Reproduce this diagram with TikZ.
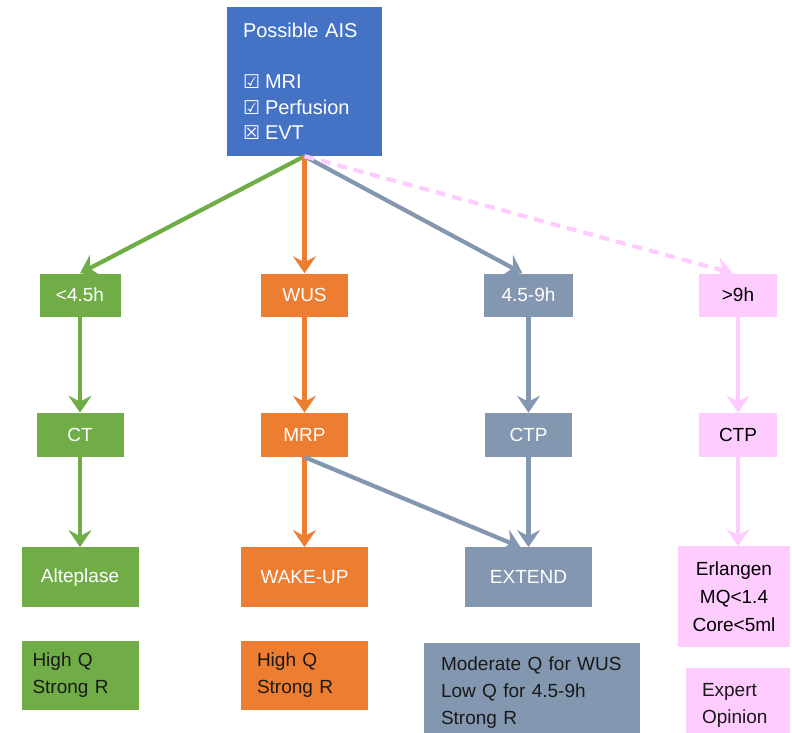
\documentclass[tikz,border=0pt]{standalone}
\usepackage{fontspec}
\setmainfont{Liberation Sans}
\newfontfamily\symfont{DejaVu Sans}
\usetikzlibrary{arrows.meta,positioning}
\definecolor{aisblue}{HTML}{4472C4}
\definecolor{early}{HTML}{70AD47}
\definecolor{wake}{HTML}{ED7D31}
\definecolor{late}{HTML}{8497B0}
\definecolor{beyond}{HTML}{FFCCFF}
\tikzstyle{stage} = [
    rectangle,
    minimum height=43pt,
    inner sep=3pt,
    align=center,
    text=white,
    font=\fontsize{19}{28}\selectfont
]
\tikzstyle{trial} = [
    stage,
    minimum height=60pt
]
\tikzstyle{evidence} = [
    rectangle,
    minimum height=69pt,
    inner ysep=3pt,
    align=left,
    text=black!90,
    font=\fontsize{19}{27}\selectfont
]
\tikzstyle{arrow} = [
    line width=4.2pt,
    -{Stealth[length=17pt,width=23pt,inset=6pt]}
]

\begin{document}
\begin{tikzpicture}[
        x=1pt, y=-1pt,
        node distance=90pt
    ]
        \clip (0,0) rectangle (792,733);
        \fill[white] (0,0) rectangle (792,733);

        % source
        \node[rectangle, fill=aisblue, minimum width=155pt, minimum height=149pt,
              inner xsep=16pt, text width=123pt, align=left, text=white,
              font=\fontsize{20}{25.5}\selectfont] (ais) at (304.5,81.5) {
            Possible AIS\\[25.5pt]
            {\symfont\fontsize{19}{25.5}\selectfont ☑}\hspace{5pt}MRI\\
            {\symfont\fontsize{19}{25.5}\selectfont ☑}\hspace{5pt}Perfusion\\
            {\symfont\fontsize{19}{25.5}\selectfont ☒}\hspace{5pt}EVT
        };

        % time windows
        \node[stage, fill=early, minimum width=81pt] (lt45) at (80,295) {<4.5h};
        \node[stage, fill=wake, minimum width=87pt] (wus) at (304.5,295) {WUS};
        \node[stage, fill=late, minimum width=89pt] (mid) at (528.5,295) {4.5-9h};
        \node[stage, fill=beyond, text=black, minimum width=78pt] (gt9) at (738,295) {>9h};

        % imaging
        \node[stage, fill=early, minimum width=87pt, minimum height=44pt, below=96pt of lt45] (ct) {CT};
        \node[stage, fill=wake, minimum width=87pt, minimum height=44pt, below=96pt of wus] (mrp) {MRP};
        \node[stage, fill=late, minimum width=87pt, minimum height=44pt, below=96pt of mid] (ctp) {CTP};
        \node[stage, fill=beyond, text=black, minimum width=78pt, minimum height=44pt, below=96pt of gt9] (ctpx) {CTP};

        % trials
        \node[trial, fill=early, minimum width=117pt, below=of ct] (alteplase) {Alteplase};
        \node[trial, fill=wake, minimum width=127pt, below=of mrp] (wakeup) {WAKE-UP};
        \node[trial, fill=late, minimum width=127pt, below=of ctp] (extend) {EXTEND};
        \node[stage, fill=beyond, text=black, minimum width=112pt, minimum height=101pt,
              below=89pt of ctpx, xshift=-4pt] (erlangen) {Erlangen\\MQ<1.4\\Core<5ml};

        % evidence
        \node[evidence, fill=early, minimum width=117pt, inner xsep=11pt, text width=95pt,
              below=33pt of alteplase] (evearly) {High Q\\Strong R};
        \node[evidence, fill=wake, minimum width=127pt, inner xsep=16pt, text width=95pt,
              below=33pt of wakeup] (evwake) {High Q\\Strong R};
        \node[evidence, fill=late, minimum width=216pt, minimum height=100pt, inner xsep=17pt,
              text width=182pt, below=35pt of extend, xshift=3.5pt] (evlate) {Moderate Q for WUS\\Low Q for 4.5-9h\\Strong R};
        \node[evidence, fill=beyond, minimum width=104pt, minimum height=76pt, inner xsep=16pt,
              text width=72pt, below=20pt of erlangen, xshift=4pt] (evbeyond) {Expert\\Opinion};

        % connectors
        \draw[arrow, early] (ais.south) -- (lt45.north);
        \draw[arrow, wake] (ais.south) -- (wus.north);
        \draw[arrow, late] (ais.south) -- ([xshift=-6pt]mid.north);
        \draw[arrow, beyond, dash pattern=on 10pt off 7pt] (ais.south) -- ([xshift=-5pt]gt9.north);

        \draw[arrow, early] (lt45) -- (ct);
        \draw[arrow, early] (ct) -- (alteplase);
        \draw[arrow, wake] (wus) -- (mrp);
        \draw[arrow, wake] (mrp) -- (wakeup);
        \draw[arrow, late] (mid) -- (ctp);
        \draw[arrow, late] (ctp) -- (extend);
        \draw[arrow, late] (mrp.south) -- ([xshift=-8pt]extend.north);
        \draw[arrow, beyond] (gt9) -- (ctpx);
        \draw[arrow, beyond] (ctpx.south) -- (ctpx.south |- erlangen.north);
    \end{tikzpicture}
\end{document}
